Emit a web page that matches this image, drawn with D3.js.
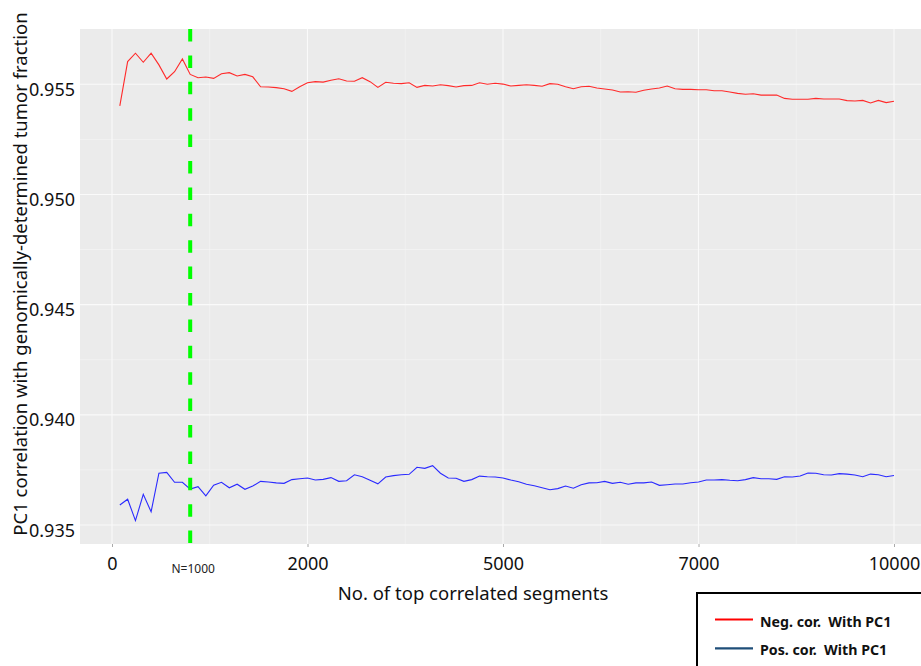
<!DOCTYPE html>
<html>
<head>
<meta charset="utf-8">
<script src="https://cdn.jsdelivr.net/npm/d3@7"></script>
<style>
body { margin: 0; background: #fff; }
text { font-family: "Noto Sans", sans-serif; }
</style>
</head>
<body>
<svg id="chart" width="921" height="666"></svg>
<script>
// number of top correlated segments (x) - one point every 100
var segments = d3.range(100, 10001, 100);

// Neg. cor. With PC1 (red)
var negCor = [
  0.95402, 0.95603, 0.95641, 0.95600, 0.95641, 0.95588, 0.95524, 0.95557, 0.95615, 0.95545,
  0.95530, 0.95533, 0.95527, 0.95548, 0.95553, 0.95538, 0.95545, 0.95534, 0.95489, 0.95488,
  0.95485, 0.95480, 0.95468, 0.95489, 0.95507, 0.95512, 0.95510, 0.95518, 0.95525, 0.95515,
  0.95514, 0.95530, 0.95512, 0.95486, 0.95509, 0.95505, 0.95503, 0.95507, 0.95486, 0.95495,
  0.95492, 0.95498, 0.95494, 0.95488, 0.95494, 0.95495, 0.95507, 0.95500, 0.95505, 0.95501,
  0.95492, 0.95495, 0.95498, 0.95495, 0.95491, 0.95503, 0.95500, 0.95489, 0.95480, 0.95489,
  0.95491, 0.95483, 0.95479, 0.95474, 0.95465, 0.95466, 0.95464, 0.95473, 0.95479, 0.95483,
  0.95492, 0.95480, 0.95477, 0.95477, 0.95475, 0.95475, 0.95471, 0.95471, 0.95465, 0.95459,
  0.95455, 0.95457, 0.95451, 0.95451, 0.95451, 0.95436, 0.95432, 0.95432, 0.95432, 0.95436,
  0.95433, 0.95433, 0.95433, 0.95426, 0.95424, 0.95427, 0.95415, 0.95427, 0.95417, 0.95423
];

// Pos. cor. With PC1 (blue)
var posCor = [
  0.93591, 0.93617, 0.93520, 0.93639, 0.93560, 0.93735, 0.93739, 0.93694, 0.93694, 0.93663,
  0.93674, 0.93632, 0.93681, 0.93694, 0.93669, 0.93685, 0.93662, 0.93677, 0.93698, 0.93695,
  0.93691, 0.93689, 0.93706, 0.93710, 0.93713, 0.93704, 0.93707, 0.93715, 0.93698, 0.93701,
  0.93728, 0.93719, 0.93703, 0.93687, 0.93718, 0.93724, 0.93728, 0.93730, 0.93762, 0.93757,
  0.93769, 0.93735, 0.93713, 0.93712, 0.93698, 0.93706, 0.93722, 0.93719, 0.93718, 0.93713,
  0.93704, 0.93696, 0.93685, 0.93678, 0.93669, 0.93660, 0.93665, 0.93677, 0.93667, 0.93683,
  0.93691, 0.93692, 0.93698, 0.93689, 0.93694, 0.93685, 0.93691, 0.93691, 0.93695, 0.93680,
  0.93683, 0.93686, 0.93686, 0.93692, 0.93695, 0.93704, 0.93704, 0.93706, 0.93703, 0.93701,
  0.93706, 0.93715, 0.93710, 0.93710, 0.93707, 0.93719, 0.93718, 0.93722, 0.93736, 0.93735,
  0.93728, 0.93727, 0.93733, 0.93731, 0.93727, 0.93719, 0.93731, 0.93728, 0.93719, 0.93725
];

var xTickValues = [0, 2500, 5000, 7500, 10000];
var xTickLabels = ["0", "2000", "5000", "7000", "10000"];
var xMinorValues = [1250, 3750, 6250, 8750];
var yTickValues = [0.935, 0.940, 0.945, 0.950, 0.955];
var yMinorValues = [0.9375, 0.9425, 0.9475, 0.9525];
var cutoff = 1000;
var cutoffLabel = "N=1000";
var legendLabels = ["Neg. cor.  With PC1", "Pos. cor.  With PC1"];
var legendColors = ["#ff0000", "#1f4e79"];

var svg = d3.select("#chart");

// panel bounds
var panelLeft = 80, panelRight = 921, panelTop = 29, panelBottom = 544;

var x = d3.scaleLinear().domain([0, 10000]).range([112, 894]);
var y = d3.scaleLinear().domain([0.935, 0.955]).range([525, 84.3]);

svg.append("rect")
  .attr("x", panelLeft).attr("y", panelTop)
  .attr("width", panelRight - panelLeft).attr("height", panelBottom - panelTop)
  .attr("fill", "#ebebeb");

var grid = svg.append("g");
grid.selectAll(".hmin").data(yMinorValues).enter().append("line")
  .attr("x1", panelLeft).attr("x2", panelRight)
  .attr("y1", function(d) { return y(d); }).attr("y2", function(d) { return y(d); })
  .attr("stroke", "#f5f5f5").attr("stroke-width", 0.7);
grid.selectAll(".vmin").data(xMinorValues).enter().append("line")
  .attr("y1", panelTop).attr("y2", panelBottom)
  .attr("x1", function(d) { return x(d); }).attr("x2", function(d) { return x(d); })
  .attr("stroke", "#f5f5f5").attr("stroke-width", 0.7);
grid.selectAll(".hmaj").data(yTickValues).enter().append("line")
  .attr("x1", panelLeft).attr("x2", panelRight)
  .attr("y1", function(d) { return y(d); }).attr("y2", function(d) { return y(d); })
  .attr("stroke", "#fafafa").attr("stroke-width", 1.1);
grid.selectAll(".vmaj").data(xTickValues).enter().append("line")
  .attr("y1", panelTop).attr("y2", panelBottom)
  .attr("x1", function(d) { return x(d); }).attr("x2", function(d) { return x(d); })
  .attr("stroke", "#fafafa").attr("stroke-width", 1.1);

// axes
var xAxis = svg.append("g")
  .attr("transform", "translate(0," + panelBottom + ")")
  .call(d3.axisBottom(x).tickValues(xTickValues)
    .tickFormat(function(d, i) { return xTickLabels[i]; })
    .tickSize(3).tickPadding(10));
xAxis.select(".domain").remove();
xAxis.selectAll("line").attr("stroke", "#aaa");
xAxis.selectAll("text").attr("font-size", 18).attr("fill", "#111")
  .style("font-family", '"Noto Sans", sans-serif');

var yAxis = svg.append("g")
  .attr("transform", "translate(" + panelLeft + ",0)")
  .call(d3.axisLeft(y).tickValues(yTickValues).tickFormat(d3.format(".3f"))
    .tickSize(0).tickPadding(5));
yAxis.select(".domain").remove();
yAxis.selectAll("text").attr("font-size", 18).attr("fill", "#111").attr("dy", "0.62em")
  .style("font-family", '"Noto Sans", sans-serif');

// series
var line = d3.line()
  .x(function(d, i) { return x(segments[i]); })
  .y(function(d) { return y(d); });

svg.append("path").datum(negCor)
  .attr("d", line).attr("fill", "none")
  .attr("stroke", "#ff2a2a").attr("stroke-width", 1.1);
svg.append("path").datum(posCor)
  .attr("d", line).attr("fill", "none")
  .attr("stroke", "#2a2aff").attr("stroke-width", 1.1);

// cutoff line
svg.append("line")
  .attr("x1", x(cutoff)).attr("x2", x(cutoff))
  .attr("y1", panelTop).attr("y2", panelBottom)
  .attr("stroke", "#00ff00").attr("stroke-width", 4)
  .attr("stroke-dasharray", "12.5,13.9");
svg.append("text")
  .attr("x", x(cutoff) + 3).attr("y", 573)
  .attr("text-anchor", "middle").attr("font-size", 12).attr("fill", "#222")
  .text(cutoffLabel);

// axis titles
svg.append("text")
  .attr("x", 473).attr("y", 600)
  .attr("text-anchor", "middle").attr("font-size", 18.5).attr("fill", "#111")
  .text("No. of top correlated segments");
svg.append("text")
  .attr("transform", "translate(27,274) rotate(-90)")
  .attr("text-anchor", "middle").attr("font-size", 18.5).attr("fill", "#111")
  .text("PC1 correlation with genomically-determined tumor fraction");

// legend
var legend = svg.append("g");
legend.append("rect")
  .attr("x", 697).attr("y", 593).attr("width", 260).attr("height", 100)
  .attr("fill", "#fff").attr("stroke", "#000").attr("stroke-width", 2);
legend.selectAll(".lg").data(legendLabels).enter().append("line")
  .attr("x1", 715).attr("x2", 753)
  .attr("y1", function(d, i) { return 619.5 + i * 28.8; })
  .attr("y2", function(d, i) { return 619.5 + i * 28.8; })
  .attr("stroke", function(d, i) { return legendColors[i]; })
  .attr("stroke-width", 2.2);
legend.selectAll(".lt").data(legendLabels).enter().append("text")
  .attr("x", 760)
  .attr("y", function(d, i) { return 626.5 + i * 28.5; })
  .attr("font-size", 14.2).attr("font-weight", "bold").attr("fill", "#111")
  .style("white-space", "pre")
  .text(function(d) { return d; });
</script>
</body>
</html>
